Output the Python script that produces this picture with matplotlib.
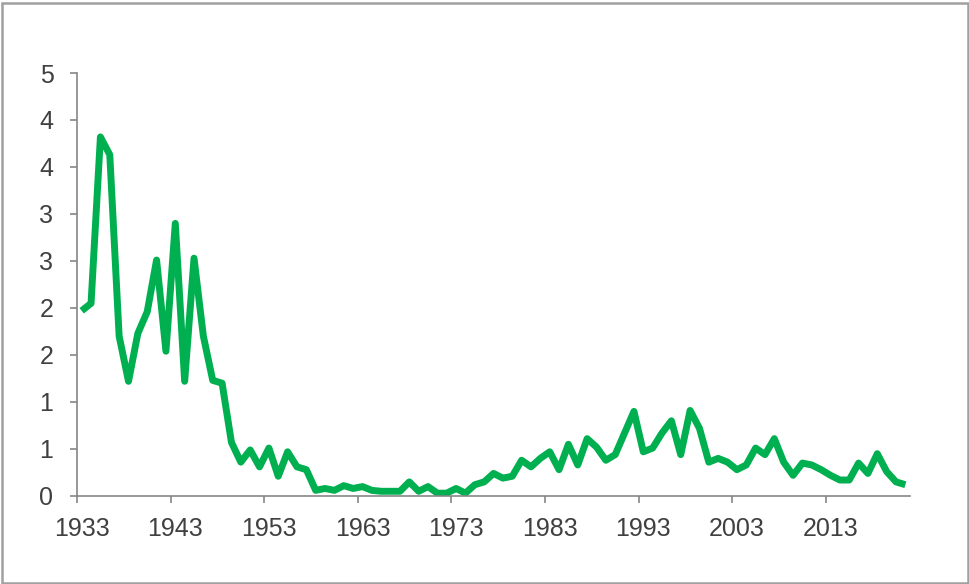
import matplotlib
matplotlib.use('Agg')
import matplotlib.pyplot as plt
import numpy as np
from matplotlib.patches import Rectangle

plt.rcParams['font.family'] = ['Liberation Sans', 'DejaVu Sans']

# yearly values
years = list(range(1933, 2022))
values = [
    1.97, 2.05, 3.82, 3.63, 1.70, 1.22, 1.73, 1.96, 2.51, 1.54,   # 1933-1942
    2.90, 1.22, 2.53, 1.70, 1.23, 1.20, 0.57, 0.36, 0.49, 0.31,   # 1943-1952
    0.51, 0.21, 0.47, 0.31, 0.28, 0.06, 0.08, 0.06, 0.11, 0.08,   # 1953-1962
    0.10, 0.06, 0.05, 0.05, 0.05, 0.15, 0.05, 0.10, 0.03, 0.03,   # 1963-1972
    0.08, 0.03, 0.12, 0.15, 0.24, 0.19, 0.21, 0.38, 0.31, 0.40,   # 1973-1982
    0.47, 0.28, 0.55, 0.33, 0.61, 0.52, 0.38, 0.44, 0.67, 0.90,   # 1983-1992
    0.47, 0.51, 0.67, 0.80, 0.44, 0.91, 0.72, 0.36, 0.40, 0.36,   # 1993-2002
    0.28, 0.33, 0.51, 0.44, 0.61, 0.36, 0.22, 0.35, 0.33, 0.28,   # 2003-2012
    0.22, 0.17, 0.17, 0.35, 0.24, 0.45, 0.26, 0.15, 0.12,         # 2013-2021
]

y_ticks = [0, 0.5, 1, 1.5, 2, 2.5, 3, 3.5, 4, 4.5]
y_labels = ['0', '1', '1', '2', '2', '3', '3', '4', '4', '5']
x_label_years = list(range(1933, 2022, 10))

axis_grey = '#868686'
text_grey = '#404040'
green = '#00B050'

fig = plt.figure(figsize=(9.7, 5.84), dpi=100)
ax = fig.add_axes([0.0794, 0.1507, 0.8588, 0.7243])

ax.plot(years, values, color=green, linewidth=5.0, solid_joinstyle='round',
        solid_capstyle='butt')

ax.set_xlim(1932.5, 2021.5)
ax.set_ylim(0, 4.5)

ax.set_yticks(y_ticks)
ax.set_yticklabels(y_labels)

# tick marks sit on category boundaries, labels on category centres
ax.set_xticks([y - 0.5 for y in x_label_years])
ax.set_xticklabels([])
ax.set_xticks(x_label_years, minor=True)
ax.set_xticklabels([str(y) for y in x_label_years], minor=True)

ax.tick_params(axis='x', which='major', direction='out', length=5,
               width=1.2, color=axis_grey)
ax.tick_params(axis='x', which='minor', length=0, pad=15,
               labelsize=18, labelcolor=text_grey)
ax.tick_params(axis='y', direction='out', length=5, width=1.2,
               color=axis_grey, pad=12, labelsize=18, labelcolor=text_grey)

for side in ['top', 'right']:
    ax.spines[side].set_visible(False)
for side in ['left', 'bottom']:
    ax.spines[side].set_color(axis_grey)
    ax.spines[side].set_linewidth(1.2)

# outer chart border
fig.patches.append(Rectangle((0.002, 0.002), 0.996, 0.993,
                             transform=fig.transFigure, fill=False,
                             edgecolor='#a0a0a0', linewidth=1.8))

fig.savefig('out.png', dpi=100)
